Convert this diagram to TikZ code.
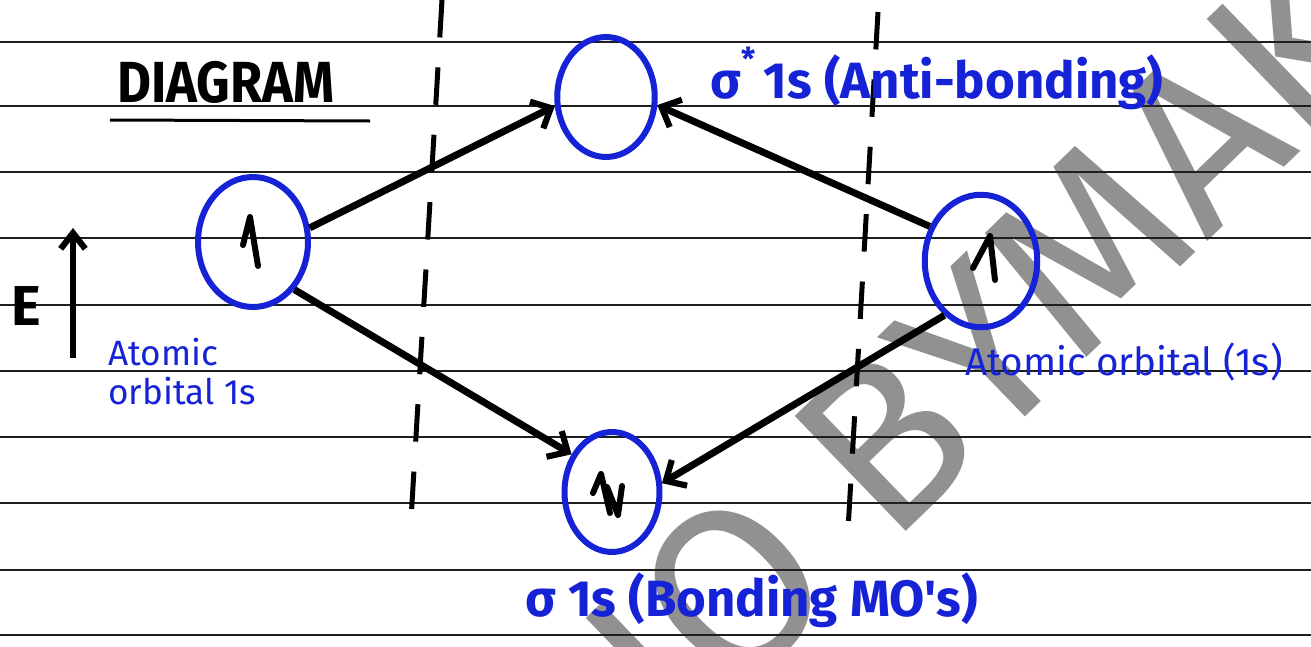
\documentclass[tikz,border=0pt]{standalone}
\usepackage{fontspec}
\setmainfont{Fira Sans}
\newfontfamily\hand{Fira Sans}
\usetikzlibrary{arrows.meta,shapes.geometric}
\definecolor{ink}{RGB}{22,34,214}
\definecolor{rule}{RGB}{30,30,30}
\definecolor{wmark}{RGB}{145,145,145}
\tikzset{
  orb/.style={draw=ink,line width=0.12cm,ellipse,inner sep=0pt},
  conn/.style={line width=0.14cm,black,-{Straight Barb[length=9pt,width=17pt,line width=3.5pt]}},
  ruled/.style={line width=0.05cm,rule},
  sep/.style={line width=0.1cm,black,dash pattern=on 0.75cm off 0.6cm},
  lab/.style={text=ink,inner sep=0pt},
  spin/.style={line width=0.12cm,black,line cap=round,line join=round},
}
\begin{document}
\begin{tikzpicture}[x=0.02cm,y=-0.02cm]
\useasboundingbox (0,0) rectangle (1311,646);
\fill[white] (0,0) rectangle (1311,646);
% watermark
\node[text=wmark,font=\hand\fontsize{132}{132}\selectfont,rotate=44,inner sep=0pt] (wm) at (985,345) {IO BYMAK};
% ruled paper
\foreach \yy in {42,106,172,238,305,371,437,503,570,635}
  \draw[ruled] (0,\yy) -- (1311,\yy);
% dashed separators
\coordinate (d1a) at (442,0); \coordinate (d1b) at (411,520);
\coordinate (d2a) at (878,12); \coordinate (d2b) at (848,530);
\draw[sep] (d1a) -- (d1b);
\draw[sep] (d2a) -- (d2b);
% title
\node[font=\hand\bfseries\fontsize{33}{33}\selectfont,inner sep=0pt] (title) at (226,82) {\scalebox{0.9}[1]{DIAGRAM}};
\coordinate (ua) at (110,120); \coordinate (ub) at (370,121);
\draw[line width=0.06cm] (ua) -- (ub);
% energy axis
\coordinate (ea) at (73,358); \coordinate (eb) at (73,228);
\draw[line width=0.13cm,-{Straight Barb[length=9pt,width=14pt,line width=3.5pt]}] (ea) -- (eb);
\node[font=\hand\bfseries\fontsize{32}{32}\selectfont,inner sep=0pt] (E) at (26,306) {E};
% orbitals
\node[orb,minimum width=2.2cm,minimum height=2.6cm] (L) at (253,242) {};
\node[orb,minimum width=2.25cm,minimum height=2.65cm] (R) at (981,261) {};
\node[orb,minimum width=1.95cm,minimum height=2.4cm] (T) at (606,97) {};
\node[orb,minimum width=1.9cm,minimum height=2.4cm] (B) at (612,492) {};
% electrons
\draw[spin] (243,245) -- (250,217) -- (258,266);
\draw[spin] (973,268) -- (990,236) -- (995,280);
\draw[spin] (593,493) -- (601,474) -- (610,513);
\draw[spin] (607,487) -- (618,515) -- (622,486);
% connectors
\draw[conn] (L.14) -- (T.190);
\draw[conn] (L.-49) -- (B.137);
\draw[conn] (R.146) -- (T.-9);
\draw[conn] (R.236) -- (B.10);
% labels
\node[lab,font=\hand\bfseries\fontsize{29}{29}\selectfont,anchor=west] (tl) at (710,78) {σ\raisebox{0.55em}{\fontsize{18}{18}\selectfont*}\,1s (Anti-bonding)};
\node[lab,font=\hand\fontsize{20}{22}\selectfont,align=left,anchor=north west] (ll) at (108,338) {Atomic\\orbital 1s};
\node[lab,font=\hand\fontsize{22}{22}\selectfont,anchor=west] (rl) at (965,362) {Atomic orbital (1s)};
\node[lab,font=\hand\bfseries\fontsize{29}{29}\selectfont,anchor=west] (bl) at (525,600) {σ 1s (Bonding MO's)};
\end{tikzpicture}
\end{document}
